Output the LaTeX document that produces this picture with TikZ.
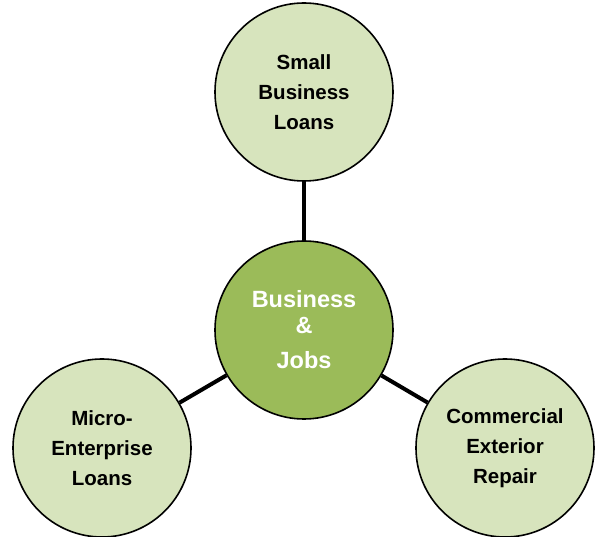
\documentclass[tikz,border=0pt]{standalone}
\usepackage{fontspec}
\setmainfont{Liberation Sans}
\usetikzlibrary{calc}

\definecolor{leafgreen}{HTML}{D7E4BD}
\definecolor{hubgreen}{HTML}{9BBB59}

\begin{document}
\begin{tikzpicture}[
    x=1pt, y=-1pt,
    link/.style={line width=4pt},
    circ/.style={circle, draw, line width=1.6pt, minimum size=178pt, inner sep=0pt,
                 align=center, font=\bfseries\fontsize{20.5}{30}\selectfont},
    leaf/.style={circ, fill=leafgreen, text=black},
    hub/.style={circ, fill=hubgreen, text=white, font=\bfseries\fontsize{23.5}{26}\selectfont}
]
\useasboundingbox (0,0) rectangle (598,537);

% =========================================================
% HUB AND THREE PROGRAMMES
% =========================================================
\node[hub] (jobs) at (304,330) {Business\\\&\\[9pt]Jobs};

\node[leaf] (small) at (304,92) {Small\\Business\\Loans};
\node[leaf] (micro) at (102,448) {Micro-\\Enterprise\\Loans};
\node[leaf] (exterior) at (505,448) {Commercial\\Exterior\\Repair};

% Spokes from the hub.
\draw[link] (jobs) -- (small);
\draw[link] (jobs) -- (micro);
\draw[link] (jobs) -- (exterior);

\end{tikzpicture}
\end{document}
